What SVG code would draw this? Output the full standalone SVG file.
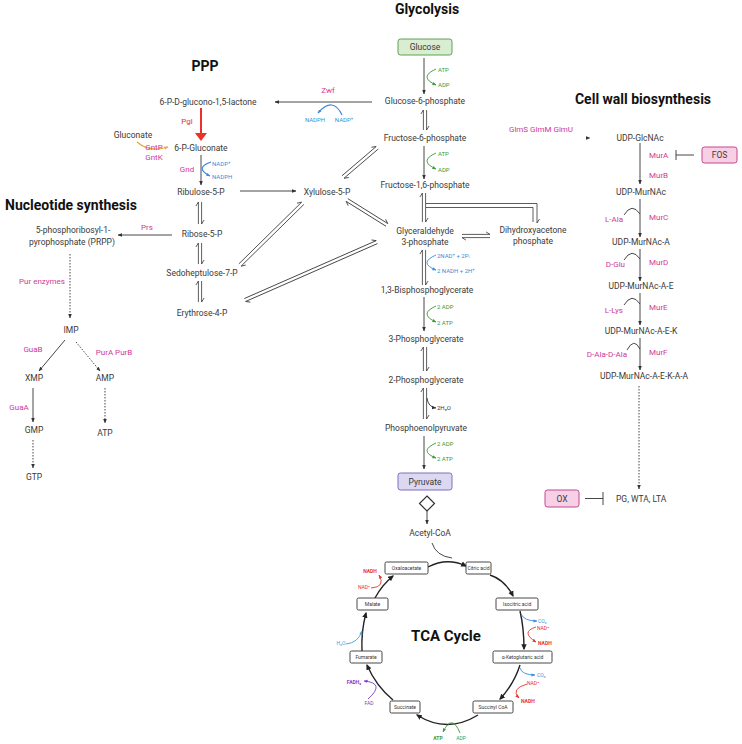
<svg xmlns="http://www.w3.org/2000/svg" width="742" height="744" viewBox="0 0 742 744">
<defs>
<style>
text{font-family:Roboto,"Liberation Sans",Arial,sans-serif;fill:#3a3a3a}
.m{font-size:8.5px;text-anchor:middle}
.t{font-size:14px;font-weight:bold;fill:#111;text-anchor:middle}
.e{font-size:8px;fill:#d0389a}
.ec{font-size:8px;fill:#d0389a;text-anchor:middle}
.s{font-size:6px}
.tb{font-size:5px;text-anchor:middle;fill:#333}
.ts{font-size:5px}
.g{fill:#3a9b3a}.b{fill:#3b8ed8}.r{fill:#e8322b}.p{fill:#7b3fc4}.lb{fill:#3ba3d8}
.bold{font-weight:bold}
.ln{fill:none;stroke:#333;stroke-width:0.9}
.eq{fill:none;stroke:#333;stroke-width:0.8}
.arr{fill:none;stroke:#333;stroke-width:0.9;marker-end:url(#ah)}
.dot{fill:none;stroke:#333;stroke-width:0.9;stroke-dasharray:1.5,1.5;marker-end:url(#ah)}
.tca{fill:none;stroke:#222;stroke-width:1.4;marker-end:url(#ahk)}
.box{fill:#fff;stroke:#333;stroke-width:0.9}
</style>
<marker id="ah" viewBox="0 0 10 10" refX="9" refY="5" markerWidth="4.5" markerHeight="4.5" orient="auto" markerUnits="userSpaceOnUse"><path d="M0,1 L10,5 L0,9 z" fill="#333"/></marker>
<marker id="ahk" viewBox="0 0 10 10" refX="8" refY="5" markerWidth="6" markerHeight="6" orient="auto" markerUnits="userSpaceOnUse"><path d="M0,0.5 L10,5 L0,9.5 z" fill="#222"/></marker>
<marker id="ahG" viewBox="0 0 10 10" refX="9" refY="5" markerWidth="4" markerHeight="4" orient="auto" markerUnits="userSpaceOnUse"><path d="M0,1 L10,5 L0,9 z" fill="#3a9b3a"/></marker>
<marker id="ahB" viewBox="0 0 10 10" refX="9" refY="5" markerWidth="4" markerHeight="4" orient="auto" markerUnits="userSpaceOnUse"><path d="M0,1 L10,5 L0,9 z" fill="#3b8ed8"/></marker>
<marker id="ahR" viewBox="0 0 10 10" refX="9" refY="5" markerWidth="4" markerHeight="4" orient="auto" markerUnits="userSpaceOnUse"><path d="M0,1 L10,5 L0,9 z" fill="#e8322b"/></marker>
<marker id="ahO" viewBox="0 0 10 10" refX="9" refY="5" markerWidth="4" markerHeight="4" orient="auto" markerUnits="userSpaceOnUse"><path d="M0,1 L10,5 L0,9 z" fill="#f0a23a"/></marker>
<marker id="ahP" viewBox="0 0 10 10" refX="9" refY="5" markerWidth="4" markerHeight="4" orient="auto" markerUnits="userSpaceOnUse"><path d="M0,1 L10,5 L0,9 z" fill="#7b3fc4"/></marker>
<marker id="ahL" viewBox="0 0 10 10" refX="9" refY="5" markerWidth="4" markerHeight="4" orient="auto" markerUnits="userSpaceOnUse"><path d="M0,1 L10,5 L0,9 z" fill="#3ba3d8"/></marker>
<linearGradient id="gdash" x1="0" x2="1" y1="0" y2="0"><stop offset="0" stop-color="#e8c870"/><stop offset="0.4" stop-color="#555"/><stop offset="1" stop-color="#333"/></linearGradient>
</defs>
<rect width="742" height="744" fill="#fff"/>

<g id="titles">
<text class="t" x="427" y="14">Glycolysis</text>
<text class="t" x="205" y="71">PPP</text>
<text class="t" x="71" y="210">Nucleotide synthesis</text>
<text class="t" x="643" y="104">Cell wall biosynthesis</text>
<text class="t" x="446" y="641" style="font-size:15px">TCA Cycle</text>
</g>

<g id="connectors">
<path class="arr" d="M424,58 V94"/>
<path fill="none" stroke="#3a9b3a" stroke-width="0.9" marker-end="url(#ahG)" d="M436,69 Q418,77 436,85"/>
<g class="eq" transform="translate(425,110) rotate(90)"><path d="M0,-1.6 H20 l-4,-2.5 M20,1.6 H0 l4,2.5"/></g>
<path class="arr" d="M424,146 V179"/>
<path fill="none" stroke="#3a9b3a" stroke-width="0.9" marker-end="url(#ahG)" d="M436,153 Q418,161 436,169"/>
<g class="eq" transform="translate(424,193) rotate(90)"><path d="M0,-1.6 H29 l-4,-2.5 M29,1.6 H0 l4,2.5"/></g>
<path class="eq" d="M426,203.5 H537 V223 l2.5,-4 M533,222 V207.5 H426"/>
<g class="eq" transform="translate(462,236)"><path d="M0,-1.6 H28 l-4,-2.5 M28,1.6 H0 l4,2.5"/></g>
<g class="eq" transform="translate(424,250) rotate(90)"><path d="M0,-1.6 H35 l-4,-2.5 M35,1.6 H0 l4,2.5"/></g>
<path fill="none" stroke="#3b8ed8" stroke-width="0.9" marker-end="url(#ahB)" d="M436,255 Q418,263 436,270"/>
<path class="arr" d="M424,297 V331"/>
<path fill="none" stroke="#3a9b3a" stroke-width="0.9" marker-end="url(#ahG)" d="M436,306 Q418,314 436,322"/>
<g class="eq" transform="translate(425,347) rotate(90)"><path d="M0,-1.6 H24 l-4,-2.5 M24,1.6 H0 l4,2.5"/></g>
<g class="eq" transform="translate(425,388) rotate(90)"><path d="M0,-1.6 H31 l-4,-2.5 M31,1.6 H0 l4,2.5"/></g>
<path class="arr" d="M427,398 Q428,407 436,408"/>
<path class="arr" d="M424,436 V469"/>
<path fill="none" stroke="#3a9b3a" stroke-width="0.9" marker-end="url(#ahG)" d="M436,443 Q418,451 436,458"/>
<path class="arr" d="M427,511 V524"/>
<path class="arr" d="M372,102 H275"/>
<path fill="none" stroke="#3b8ed8" stroke-width="1.2" marker-end="url(#ahB)" d="M342,115 Q333,96 318,113"/>
<path fill="none" stroke="#e8322b" stroke-width="2" d="M201,108 V134"/>
<polygon points="195,133 207,133 201,141" fill="#e8322b"/>
<path fill="none" stroke="#f0a23a" stroke-width="1.2" marker-end="url(#ahO)" d="M137,142 Q150,153 168,147"/>
<path class="arr" d="M201,155 V185"/>
<path fill="none" stroke="#3b8ed8" stroke-width="1.2" marker-end="url(#ahB)" d="M211,162 Q194,168 210,176"/>
<path class="arr" d="M240,191 H296"/>
<g class="eq" transform="translate(200,202) rotate(90)"><path d="M0,-1.6 H22 l-4,-2.5 M22,1.6 H0 l4,2.5"/></g>
<g class="eq" transform="translate(200,243) rotate(90)"><path d="M0,-1.6 H21 l-4,-2.5 M21,1.6 H0 l4,2.5"/></g>
<g class="eq" transform="translate(200,281) rotate(90)"><path d="M0,-1.6 H21 l-4,-2.5 M21,1.6 H0 l4,2.5"/></g>
<g class="eq" transform="translate(343,177) rotate(-40.5)"><path d="M0,-1.6 H45 l-4,-2.5 M45,1.6 H0 l4,2.5"/></g>
<g class="eq" transform="translate(347,200) rotate(32)"><path d="M0,-1.6 H47 l-4,-2.5 M47,1.6 H0 l4,2.5"/></g>
<g class="eq" transform="translate(240,265) rotate(-44.5)"><path d="M0,-1.6 H88 l-4,-2.5 M88,1.6 H0 l4,2.5"/></g>
<g class="eq" transform="translate(245,300) rotate(-23.7)"><path d="M0,-1.6 H144 l-4,-2.5 M144,1.6 H0 l4,2.5"/></g>
<path class="arr" d="M172,235 H118"/>
<path class="dot" d="M70,254 V318"/>
<path class="arr" d="M65,340 L39,371"/>
<path class="dot" d="M76,342 L100,371"/>
<path class="arr" d="M33,388 V422"/>
<path class="dot" d="M105,388 V423"/>
<path class="dot" d="M33,440 V468"/>
<path fill="none" stroke="url(#gdash)" stroke-width="0.9" stroke-dasharray="3,2" marker-end="url(#ah)" d="M482,138 H590"/>
<path class="arr" d="M640,143 V184"/>
<path class="ln" d="M694,155 H676 M676,150 V160"/>
<path class="arr" d="M640,199 V237"/>
<path class="ln" d="M624,215 Q632,202 640,214"/>
<path class="arr" d="M640,249 V281"/>
<path class="ln" d="M624,260 Q632,247 640,259"/>
<path class="arr" d="M640,293 V325"/>
<path class="ln" d="M624,305 Q632,292 640,304"/>
<path class="arr" d="M640,338 V370"/>
<path class="ln" d="M627,350 Q634,337 640,349"/>
<path class="dot" d="M639,386 V489"/>
<path class="ln" d="M585,498.5 H603 M603,492 V505"/>
<path class="tca" d="M428,567 Q447,557 466,566"/>
<path class="ln" stroke-width="1.1" d="M432,543 Q436,556 452,558"/>
<path class="tca" d="M490,575 Q505,580 513,596"/>
<path class="tca" d="M520,611 Q524,628 524,649"/>
<path class="tca" d="M520,665 Q514,684 500,699"/>
<path class="tca" d="M478,715 Q447,734 417,715"/>
<path class="tca" d="M393,700 Q376,686 367,665"/>
<path class="tca" d="M362,651 Q361,632 366,613"/>
<path class="tca" d="M375,598 Q382,585 393,576"/>
<path fill="none" stroke="#e8322b" stroke-width="0.9" marker-end="url(#ahR)" d="M371,588 Q386,587 379,575"/>
<path fill="none" stroke="#3b8ed8" stroke-width="0.9" marker-end="url(#ahB)" d="M521,614 Q524,621 537,621"/>
<path fill="none" stroke="#e8322b" stroke-width="0.9" marker-end="url(#ahR)" d="M536,627 Q520,632 536,642"/>
<path fill="none" stroke="#3b8ed8" stroke-width="0.9" marker-end="url(#ahB)" d="M520,668 Q522,675 535,675"/>
<path fill="none" stroke="#e8322b" stroke-width="0.9" marker-end="url(#ahR)" d="M527,684 Q510,689 519,698"/>
<path fill="none" stroke="#3a9b3a" stroke-width="0.9" marker-end="url(#ahG)" d="M460,733 Q452,713 443,732"/>
<path fill="none" stroke="#7b3fc4" stroke-width="0.9" marker-end="url(#ahP)" d="M368,699 Q386,683 364,681"/>
<path fill="none" stroke="#3ba3d8" stroke-width="0.9" marker-end="url(#ahL)" d="M346,644 Q358,643 362,631"/>
</g>

<g id="glycolysis-nodes">
<g id="n-glucose"><rect x="398" y="39" width="54" height="16" rx="2.5" fill="#d8edd2" stroke="#5ea050" stroke-width="1"/><text class="m" x="425" y="50">Glucose</text></g>
<g id="n-g6p"><text class="m" x="425" y="104">Glucose-6-phosphate</text></g>
<g id="n-f6p"><text class="m" x="425" y="141">Fructose-6-phosphate</text></g>
<g id="n-f16p"><text class="m" x="425" y="188">Fructose-1,6-phosphate</text></g>
<g id="n-g3p"><text class="m" x="425" y="234">Glyceraldehyde</text><text class="m" x="425" y="245">3-phosphate</text></g>
<g id="n-dhap"><text class="m" x="533" y="233">Dihydroxyacetone</text><text class="m" x="533" y="244">phosphate</text></g>
<g id="n-bpg"><text class="m" x="427" y="293">1,3-Bisphosphoglycerate</text></g>
<g id="n-3pg"><text class="m" x="426" y="342">3-Phosphoglycerate</text></g>
<g id="n-2pg"><text class="m" x="426" y="383">2-Phosphoglycerate</text></g>
<g id="n-pep"><text class="m" x="426" y="431">Phosphoenolpyruvate</text></g>
<g id="n-pyr"><rect x="398" y="473" width="54" height="17" rx="2.5" fill="#dcd8f2" stroke="#7a70b8" stroke-width="1"/><text class="m" x="425" y="485">Pyruvate</text></g>
<g id="n-diamond"><polygon points="427,496 434.5,503.5 427,511 419.5,503.5" fill="#fff" stroke="#333" stroke-width="1.2"/></g>
<g id="n-acoa"><text class="m" x="430" y="536">Acetyl-CoA</text></g>
<g id="cof-gly">
<text class="s g" x="438" y="72">ATP</text><text class="s g" x="438" y="87">ADP</text>
<text class="s g" x="438" y="156">ATP</text><text class="s g" x="438" y="172">ADP</text>
<text class="s b" x="437" y="258">2NAD⁺ + 2Pᵢ</text><text class="s b" x="437" y="273">2 NADH + 2H⁺</text>
<text class="s g" x="437" y="309">2 ADP</text><text class="s g" x="437" y="325">2 ATP</text>
<text class="s" x="437" y="410">2H₂O</text>
<text class="s g" x="437" y="446">2 ADP</text><text class="s g" x="437" y="461">2 ATP</text>
</g>
</g>

<g id="ppp-nodes">
<g id="n-lactone"><text class="m" x="208" y="105">6-P-D-glucono-1,5-lactone</text></g>
<g id="n-6pg"><text class="m" x="201" y="151">6-P-Gluconate</text></g>
<g id="n-gluconate"><text class="m" x="133" y="138">Gluconate</text></g>
<g id="n-ru5p"><text class="m" x="201" y="195">Ribulose-5-P</text></g>
<g id="n-xu5p"><text class="m" x="327" y="195">Xylulose-5-P</text></g>
<g id="n-r5p"><text class="m" x="202" y="237">Ribose-5-P</text></g>
<g id="n-s7p"><text class="m" x="202" y="276">Sedoheptulose-7-P</text></g>
<g id="n-e4p"><text class="m" x="202" y="316">Erythrose-4-P</text></g>
<g id="enz-ppp">
<text class="ec" x="328" y="93">Zwf</text>
<text class="ec" x="187" y="124" style="fill:#e8322b">Pgl</text>
<text class="ec" x="154" y="150">GntP</text><text class="ec" x="154" y="160">GntK</text>
<text class="ec" x="187" y="172">Gnd</text>
<text class="s b" x="315" y="122" text-anchor="middle">NADPH</text><text class="s b" x="344" y="122" text-anchor="middle">NADP⁺</text>
<text class="s b" x="212" y="166">NADP⁺</text><text class="s b" x="212" y="179">NADPH</text>
</g>
</g>

<g id="nucleotide-nodes">
<g id="n-prpp"><text class="m" x="73" y="233">5-phosphoribosyl-1-</text><text class="m" x="72" y="245">pyrophosphate (PRPP)</text></g>
<g id="n-imp"><text class="m" x="71" y="333">IMP</text></g>
<g id="n-xmp"><text class="m" x="34" y="381">XMP</text></g>
<g id="n-amp"><text class="m" x="105" y="381">AMP</text></g>
<g id="n-gmp"><text class="m" x="34" y="433">GMP</text></g>
<g id="n-atp"><text class="m" x="105" y="436">ATP</text></g>
<g id="n-gtp"><text class="m" x="34" y="480">GTP</text></g>
<g id="enz-nuc">
<text class="ec" x="147" y="230">Prs</text>
<text class="ec" x="42" y="284">Pur enzymes</text>
<text class="ec" x="33" y="352">GuaB</text>
<text class="ec" x="114" y="355">PurA PurB</text>
<text class="ec" x="19" y="410">GuaA</text>
</g>
</g>

<g id="cellwall-nodes">
<g id="n-udpglcnac"><text class="m" x="640" y="141">UDP-GlcNAc</text></g>
<g id="n-udpmurnac"><text class="m" x="641" y="195">UDP-MurNAc</text></g>
<g id="n-a"><text class="m" x="641" y="245">UDP-MurNAc-A</text></g>
<g id="n-ae"><text class="m" x="641" y="289">UDP-MurNAc-A-E</text></g>
<g id="n-aek"><text class="m" x="641" y="334">UDP-MurNAc-A-E-K</text></g>
<g id="n-aekaa"><text class="m" x="644" y="379">UDP-MurNAc-A-E-K-A-A</text></g>
<g id="n-pg"><text class="m" x="616" y="502" style="text-anchor:start">PG, WTA, LTA</text></g>
<g id="n-fos"><rect x="702" y="147" width="35" height="16" rx="2.5" fill="#f7d0e6" stroke="#c04890" stroke-width="1"/><text class="m" x="719.5" y="158">FOS</text></g>
<g id="n-ox"><rect x="545" y="490" width="34" height="17" rx="2.5" fill="#f7d0e6" stroke="#c04890" stroke-width="1"/><text class="m" x="562" y="502">OX</text></g>
<g id="enz-cw">
<text class="ec" x="541" y="132">GlmS GlmM GlmU</text>
<text class="e" x="649" y="158">MurA</text>
<text class="e" x="649" y="178">MurB</text>
<text class="e" x="649" y="220">MurC</text>
<text class="e" x="649" y="265">MurD</text>
<text class="e" x="649" y="310">MurE</text>
<text class="e" x="649" y="355">MurF</text>
<text class="e" x="623" y="222" text-anchor="end">L-Ala</text>
<text class="e" x="625" y="267" text-anchor="end">D-Glu</text>
<text class="e" x="623" y="313" text-anchor="end">L-Lys</text>
<text class="e" x="627" y="357" text-anchor="end">D-Ala-D-Ala</text>
</g>
</g>

<g id="tca-nodes">
<g id="n-oaa"><rect class="box" x="385" y="562" width="43" height="12" rx="1.5"/><text class="tb" x="406.5" y="569.8">Oxaloacetate</text></g>
<g id="n-cit"><rect class="box" x="466" y="562" width="25" height="12" rx="1.5"/><text class="tb" x="478.5" y="569.8">Citric acid</text></g>
<g id="n-iso"><rect class="box" x="496" y="598" width="42" height="12" rx="1.5"/><text class="tb" x="517" y="605.8">Isocitric acid</text></g>
<g id="n-akg"><rect class="box" x="493" y="651" width="59" height="12" rx="1.5"/><text class="tb" x="522.5" y="658.8">α-Ketoglutaric acid</text></g>
<g id="n-scoa"><rect class="box" x="473" y="701" width="40" height="12" rx="1.5"/><text class="tb" x="493" y="708.8">Succinyl CoA</text></g>
<g id="n-suc"><rect class="box" x="390" y="701" width="30" height="12" rx="1.5"/><text class="tb" x="405" y="708.8">Succinate</text></g>
<g id="n-fum"><rect class="box" x="350" y="651" width="32" height="12" rx="1.5"/><text class="tb" x="366" y="658.8">Fumarate</text></g>
<g id="n-mal"><rect class="box" x="357" y="598" width="31" height="12" rx="1.5"/><text class="tb" x="372.5" y="605.8">Malate</text></g>
<g id="cof-tca">
<text class="ts r bold" x="370" y="573" text-anchor="middle">NADH</text>
<text class="ts r" x="364" y="589" text-anchor="middle">NAD⁺</text>
<text class="ts b" x="538" y="623">CO₂</text>
<text class="ts r" x="537" y="629.5">NAD⁺</text>
<text class="ts r bold" x="538" y="645">NADH</text>
<text class="ts b" x="537" y="677">CO₂</text>
<text class="ts r" x="527" y="685">NAD⁺</text>
<text class="ts r bold" x="521" y="703">NADH</text>
<text class="ts g bold" x="438" y="740" text-anchor="middle">ATP</text>
<text class="ts g" x="461" y="740" text-anchor="middle">ADP</text>
<text class="ts p bold" x="354" y="684" text-anchor="middle">FADH₂</text>
<text class="ts p" x="369" y="705" text-anchor="middle">FAD</text>
<text class="ts lb" x="341" y="645" text-anchor="middle">H₂O</text>
</g>
</g>
</svg>
